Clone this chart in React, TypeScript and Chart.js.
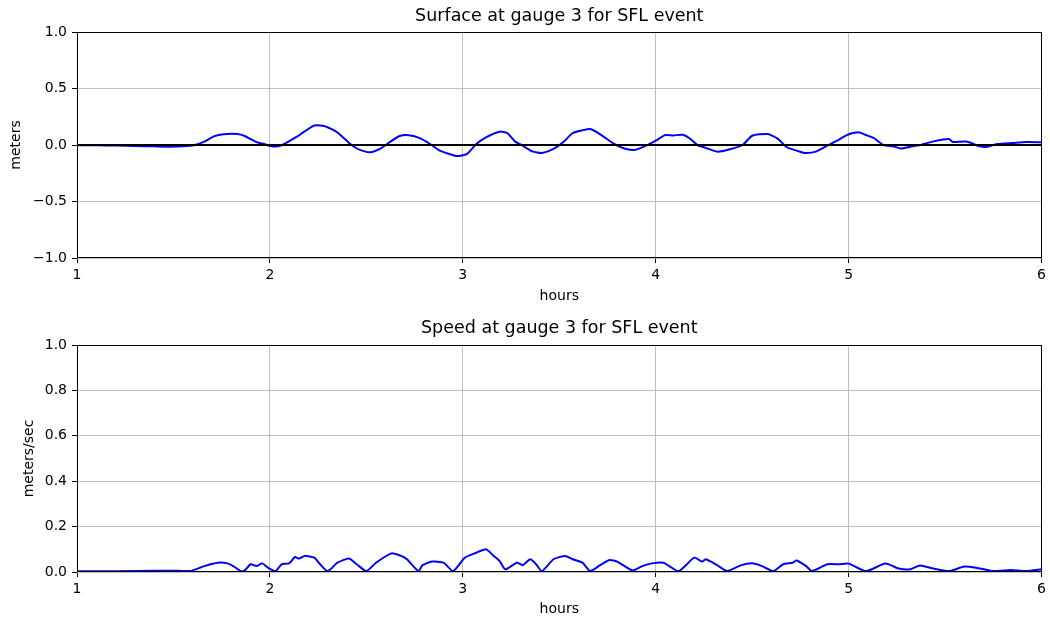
import React, { useEffect, useRef } from "react";
import { Chart, registerables } from "chart.js";

Chart.register(...registerables);

const surfaceHours = [
  1.0, 1.1, 1.2, 1.3, 1.4, 1.48, 1.55, 1.61, 1.66, 1.71, 1.76, 1.83, 1.87, 1.9, 1.94, 1.97, 2.0, 2.05, 2.08,
  2.14, 2.18, 2.23, 2.28, 2.32, 2.35, 2.41, 2.44, 2.47, 2.52, 2.57, 2.62, 2.67, 2.72, 2.78, 2.83, 2.88, 2.93,
  2.97, 3.02, 3.07, 3.12, 3.19, 3.23, 3.27, 3.31, 3.36, 3.41, 3.47, 3.52, 3.57, 3.62, 3.66, 3.71, 3.78, 3.83,
  3.89, 3.95, 4.0, 4.05, 4.09, 4.14, 4.18, 4.22, 4.25, 4.32, 4.38, 4.45, 4.5, 4.58, 4.63, 4.68, 4.73, 4.77,
  4.83, 4.89, 4.94, 4.99, 5.05, 5.09, 5.13, 5.18, 5.23, 5.27, 5.32, 5.37, 5.44, 5.52, 5.54, 5.61, 5.68, 5.72,
  5.77, 5.85, 5.92, 6.0,
];
const surfaceMeters = [
  -0.002, -0.003, -0.004, -0.008, -0.012, -0.015, -0.012, 0.0, 0.03, 0.076, 0.095, 0.097, 0.08, 0.053, 0.02,
  0.01, -0.008, -0.01, 0.015, 0.074, 0.12, 0.172, 0.168, 0.14, 0.11, 0.018, -0.02, -0.045, -0.065, -0.035,
  0.024, 0.078, 0.086, 0.059, 0.009, -0.05, -0.08, -0.098, -0.08, 0.009, 0.068, 0.118, 0.106, 0.032, -0.006,
  -0.056, -0.07, -0.035, 0.024, 0.106, 0.13, 0.141, 0.097, 0.015, -0.026, -0.044, -0.006, 0.038, 0.088, 0.085,
  0.09, 0.053, -0.006, -0.02, -0.059, -0.04, 0.0, 0.082, 0.097, 0.059, -0.02, -0.05, -0.07, -0.059, -0.006,
  0.038, 0.088, 0.112, 0.088, 0.062, 0.0, -0.012, -0.03, -0.015, 0.0, 0.032, 0.053, 0.026, 0.03, -0.012,
  -0.015, 0.009, 0.018, 0.026, 0.024,
];

const speedHours = [
  1.0, 1.2, 1.4, 1.5, 1.59, 1.66, 1.73, 1.78, 1.81, 1.85, 1.87, 1.9, 1.93, 1.96, 1.99, 2.03, 2.06, 2.1, 2.13,
  2.15, 2.18, 2.23, 2.26, 2.3, 2.35, 2.41, 2.45, 2.5, 2.55, 2.63, 2.68, 2.71, 2.77, 2.79, 2.84, 2.9, 2.95,
  3.01, 3.07, 3.12, 3.16, 3.19, 3.22, 3.28, 3.31, 3.35, 3.38, 3.41, 3.47, 3.53, 3.57, 3.62, 3.66, 3.71, 3.76,
  3.8, 3.88, 3.93, 3.98, 4.04, 4.07, 4.12, 4.2, 4.24, 4.26, 4.32, 4.37, 4.44, 4.5, 4.55, 4.61, 4.66, 4.71,
  4.73, 4.78, 4.81, 4.89, 4.95, 5.0, 5.09, 5.19, 5.26, 5.32, 5.37, 5.44, 5.52, 5.6, 5.66, 5.75, 5.84, 5.92,
  6.0,
];
const speedValues = [
  0.003, 0.003, 0.005, 0.006, 0.005, 0.026, 0.041, 0.038, 0.026, 0.004, 0.007, 0.034, 0.026, 0.038, 0.019,
  0.004, 0.034, 0.038, 0.066, 0.059, 0.071, 0.063, 0.034, 0.004, 0.041, 0.059, 0.034, 0.004, 0.041, 0.082,
  0.071, 0.056, 0.004, 0.029, 0.046, 0.041, 0.004, 0.063, 0.085, 0.1, 0.071, 0.049, 0.012, 0.041, 0.03,
  0.056, 0.034, 0.004, 0.056, 0.071, 0.056, 0.041, 0.004, 0.029, 0.053, 0.046, 0.007, 0.026, 0.038, 0.041,
  0.026, 0.004, 0.063, 0.046, 0.056, 0.029, 0.004, 0.029, 0.038, 0.026, 0.004, 0.034, 0.041, 0.051, 0.026,
  0.004, 0.034, 0.034, 0.037, 0.004, 0.037, 0.015, 0.012, 0.029, 0.015, 0.004, 0.024, 0.019, 0.004, 0.009,
  0.004, 0.012,
];

const xTicks = [1, 2, 3, 4, 5, 6];
const surfaceTicks = [-1.0, -0.5, 0.0, 0.5, 1.0];
const speedTicks = [0.0, 0.2, 0.4, 0.6, 0.8, 1.0];

const FONT = "'DejaVu Sans', sans-serif";

const framePlugin = {
  id: "frame",
  afterDatasetsDraw(chart: any) {
    const { ctx, chartArea } = chart;
    ctx.save();
    ctx.strokeStyle = "#000";
    ctx.lineWidth = 1;
    ctx.strokeRect(
      Math.round(chartArea.left) + 0.5,
      Math.round(chartArea.top) + 0.5,
      Math.round(chartArea.right - chartArea.left) - 1,
      Math.round(chartArea.bottom - chartArea.top) - 1
    );
    ctx.restore();
  },
};

function fmt(v: number) {
  return v.toFixed(1).replace("-", "\u2212");
}

function makeConfig(opts: {
  title: string;
  yLabel: string;
  xs: number[];
  ys: number[];
  yTicks: number[];
  zeroLine: boolean;
  titlePad: { top: number; bottom: number };
  xHeight: number;
  xTitlePadBottom: number;
  yTitlePadTop: number;
}) {
  const datasets: any[] = [];
  if (opts.zeroLine) {
    datasets.push({
      data: [
        { x: xTicks[0], y: 0 },
        { x: xTicks[xTicks.length - 1], y: 0 },
      ],
      borderColor: "#000",
      borderWidth: 2,
      pointRadius: 0,
      order: 0,
    });
  }
  datasets.push({
    data: opts.xs.map((x, i) => ({ x, y: opts.ys[i] })),
    borderColor: "#0000ff",
    borderWidth: 2,
    pointRadius: 0,
    tension: 0.2,
    order: 1,
  });
  const yMin = opts.yTicks[0];
  const yMax = opts.yTicks[opts.yTicks.length - 1];
  return {
    type: "line",
    data: { datasets },
    options: {
      animation: false,
      responsive: false,
      layout: { padding: { left: 0, right: 8, top: 0, bottom: 0 } },
      plugins: {
        legend: { display: false },
        tooltip: { enabled: false },
        title: {
          display: true,
          text: opts.title,
          color: "#000",
          fullSize: false,
          font: { family: FONT, size: 17.5, weight: "normal", lineHeight: 1 },
          padding: opts.titlePad,
        },
      },
      scales: {
        x: {
          type: "linear",
          min: xTicks[0],
          max: xTicks[xTicks.length - 1],
          afterBuildTicks: (s: any) => {
            s.ticks = xTicks.map((v) => ({ value: v }));
          },
          afterFit: (s: any) => {
            s.height = opts.xHeight;
          },
          ticks: {
            color: "#000",
            font: { family: FONT, size: 14 },
            padding: 4,
            maxRotation: 0,
            callback: (v: any) => String(v),
          },
          grid: {
            color: "#b0b0b0",
            lineWidth: 0.8,
            tickColor: "#000",
            tickLength: 5,
            tickWidth: 1,
          },
          border: { display: false },
          title: {
            display: true,
            text: "hours",
            color: "#000",
            font: { family: FONT, size: 14 },
            padding: { top: 0, bottom: opts.xTitlePadBottom },
          },
        },
        y: {
          type: "linear",
          min: yMin,
          max: yMax,
          afterBuildTicks: (s: any) => {
            s.ticks = opts.yTicks.map((v) => ({ value: v }));
          },
          afterFit: (s: any) => {
            s.width = 77;
          },
          ticks: {
            color: "#000",
            font: { family: FONT, size: 14 },
            padding: 5,
            callback: (v: any) => fmt(Number(v)),
          },
          grid: {
            color: "#b0b0b0",
            lineWidth: 0.8,
            tickColor: "#000",
            tickLength: 5,
            tickWidth: 1,
          },
          border: { display: false },
          title: {
            display: true,
            text: opts.yLabel,
            color: "#000",
            font: { family: FONT, size: 14 },
            padding: { top: opts.yTitlePadTop, bottom: 0 },
          },
        },
      },
    },
    plugins: [framePlugin],
  } as any;
}

function ChartCanvas({ config, top }: { config: any; top: number }) {
  const ref = useRef<HTMLCanvasElement | null>(null);
  useEffect(() => {
    if (!ref.current) return;
    const chart = new Chart(ref.current, config);
    return () => chart.destroy();
  }, [config]);
  return (
    <canvas
      ref={ref}
      width={1050}
      height={311}
      style={{ position: "absolute", left: 0, top, width: 1050, height: 311 }}
    />
  );
}

const surfaceConfig = makeConfig({
  title: "Surface at gauge 3 for SFL event",
  yLabel: "meters",
  xs: surfaceHours,
  ys: surfaceMeters,
  yTicks: surfaceTicks,
  zeroLine: true,
  titlePad: { top: 8, bottom: 6.5 },
  xHeight: 53,
  xTitlePadBottom: 6,
  yTitlePadTop: 8,
});

const speedConfig = makeConfig({
  title: "Speed at gauge 3 for SFL event",
  yLabel: "meters/sec",
  xs: speedHours,
  ys: speedValues,
  yTicks: speedTicks,
  zeroLine: false,
  titlePad: { top: 9, bottom: 7.5 },
  xHeight: 50,
  xTitlePadBottom: 4,
  yTitlePadTop: 21,
});

export default function App() {
  return (
    <div
      style={{
        position: "absolute",
        left: 0,
        top: 0,
        width: 1050,
        height: 622,
        background: "#fff",
        overflow: "hidden",
      }}
    >
      <ChartCanvas config={surfaceConfig} top={0} />
      <ChartCanvas config={speedConfig} top={311} />
    </div>
  );
}
